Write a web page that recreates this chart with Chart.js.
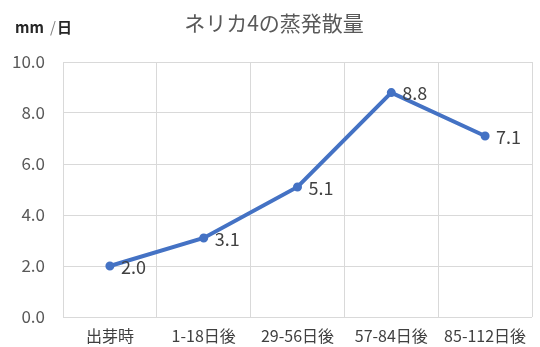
<!DOCTYPE html>
<html>
<head>
<meta charset="utf-8">
<script src="https://cdn.jsdelivr.net/npm/chart.js@4"></script>
<style>
  html, body { margin: 0; padding: 0; background: #fff; }
  #wrap { width: 540px; height: 347px; }
</style>
</head>
<body>
<div id="wrap"><canvas id="et"></canvas></div>
<script>
const categories = ["出芽時", "1-18日後", "29-56日後", "57-84日後", "85-112日後"];
const evapo = [2.0, 3.1, 5.1, 8.8, 7.1];
const yTicks = [0, 2, 4, 6, 8, 10];

const titleText = "ネリカ4の蒸発散量";
const FONT = "'Noto Sans CJK JP', 'Noto Sans', sans-serif";

// title, unit caption and the value next to each point
const annotations = {
  id: "annotations",
  afterDatasetsDraw(chart) {
    const ctx = chart.ctx;
    const meta = chart.getDatasetMeta(0);
    ctx.save();
    ctx.textBaseline = "middle";

    ctx.font = "18px " + FONT;
    ctx.fillStyle = "#404040";
    ctx.textAlign = "left";
    meta.data.forEach((pt, i) => {
      ctx.fillText(evapo[i].toFixed(1), pt.x + 11, pt.y + 1);
    });

    ctx.font = "21px " + FONT;
    ctx.fillStyle = "#595959";
    ctx.textAlign = "center";
    ctx.fillText(titleText, 274, 23);

    ctx.textAlign = "left";
    ctx.fillStyle = "#262626";
    ctx.font = "bold 15px " + FONT;
    ctx.fillText("mm", 15, 27);
    ctx.font = "15px " + FONT;
    ctx.fillStyle = "#808080";
    ctx.fillText("/", 50, 27);
    ctx.font = "bold 15px " + FONT;
    ctx.fillStyle = "#262626";
    ctx.fillText("日", 57, 27);
    ctx.restore();
  }
};

new Chart(document.getElementById("et"), {
  type: "line",
  data: {
    labels: categories,
    datasets: [{
      data: evapo,
      borderColor: "#4472C4",
      backgroundColor: "#4472C4",
      borderWidth: 4,
      pointRadius: 2.5,
      pointHoverRadius: 2.5,
      tension: 0
    }]
  },
  options: {
    responsive: true,
    maintainAspectRatio: false,
    animation: false,
    layout: { padding: { left: 0, right: 8, top: 62, bottom: 0 } },
    plugins: {
      legend: { display: false },
      tooltip: { enabled: false },
      title: { display: false }
    },
    scales: {
      x: {
        offset: true,
        afterFit(axis) { axis.height = 30; },
        grid: { color: "#d9d9d9", offset: true, drawTicks: false },
        border: { display: false },
        ticks: { color: "#404040", font: { family: FONT, size: 16 }, padding: 9, maxRotation: 0 }
      },
      y: {
        min: 0,
        max: 10,
        afterBuildTicks(axis) { axis.ticks = yTicks.map(v => ({ value: v })); },
        afterFit(axis) { axis.width = 63; },
        grid: { color: "#d9d9d9", drawTicks: false },
        border: { display: false },
        ticks: {
          color: "#595959",
          font: { family: FONT, size: 17 },
          padding: 18,
          callback: v => v.toFixed(1)
        }
      }
    }
  },
  plugins: [annotations]
});
</script>
</body>
</html>
